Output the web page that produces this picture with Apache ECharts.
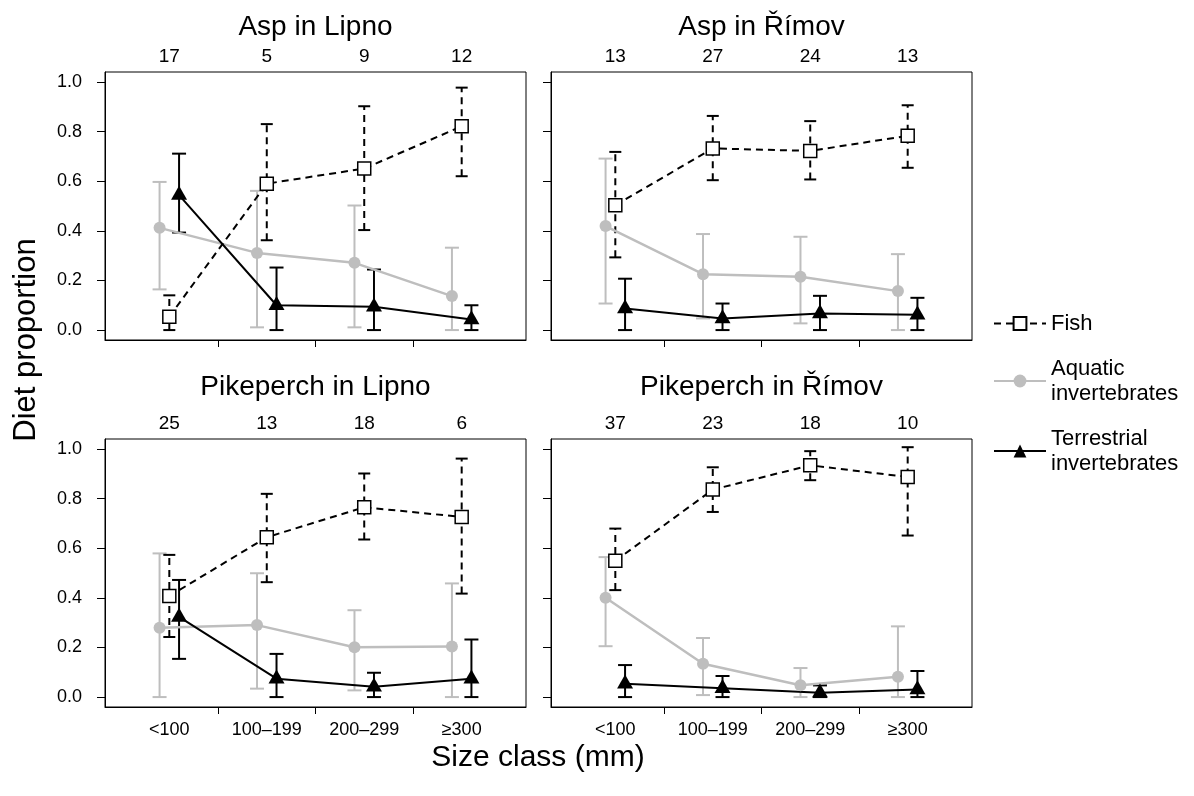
<!DOCTYPE html>
<html>
<head>
<meta charset="utf-8">
<title>Diet proportion by size class</title>
<script src="https://cdn.jsdelivr.net/npm/echarts@6/dist/echarts.min.js"></script>
<style>
  html, body { margin: 0; padding: 0; background: #fff; }
  #chart { width: 1194px; height: 796px; }
</style>
</head>
<body>
<div id="chart"></div>
<script>
// data
const sizeClasses = ['<100', '100–199', '200–299', '≥300']
const panelTitles = ['Asp in Lipno', 'Asp in Římov', 'Pikeperch in Lipno', 'Pikeperch in Římov']
const sampleSizes = [[17, 5, 9, 12], [13, 27, 24, 13], [25, 13, 18, 6], [37, 23, 18, 10]]
const yTicks = [0, 0.2, 0.4, 0.6, 0.8, 1.0]

const fishMean = [[0.054, 0.59, 0.651, 0.821], [0.503, 0.732, 0.722, 0.783], [0.407, 0.644, 0.765, 0.726], [0.549, 0.836, 0.934, 0.887]]
const fishLow = [[0.0, 0.362, 0.403, 0.62], [0.293, 0.604, 0.607, 0.654], [0.242, 0.463, 0.635, 0.417], [0.431, 0.746, 0.874, 0.651]]
const fishHigh = [[0.14, 0.83, 0.902, 0.977], [0.718, 0.863, 0.842, 0.906], [0.573, 0.819, 0.901, 0.961], [0.679, 0.926, 0.991, 1.007]]

const aquaticMean = [[0.412, 0.311, 0.271, 0.137], [0.419, 0.225, 0.215, 0.157], [0.279, 0.29, 0.201, 0.204], [0.4, 0.134, 0.048, 0.082]]
const aquaticLow = [[0.164, 0.011, 0.011, 0.0], [0.107, 0.047, 0.027, 0.0], [0.0, 0.034, 0.027, 0.0], [0.205, 0.008, 0.0, 0.0]]
const aquaticHigh = [[0.597, 0.561, 0.502, 0.332], [0.691, 0.387, 0.376, 0.306], [0.579, 0.499, 0.35, 0.458], [0.564, 0.238, 0.117, 0.285]]

const terrMean = [[0.544, 0.10, 0.094, 0.043], [0.087, 0.047, 0.067, 0.062], [0.323, 0.074, 0.042, 0.074], [0.054, 0.036, 0.017, 0.031]]
const terrLow = [[0.393, 0.0, 0.0, 0.0], [0.0, 0.0, 0.0, 0.0], [0.154, 0.0, 0.0, 0.0], [0.0, 0.0, 0.0, 0.0]]
const terrHigh = [[0.711, 0.252, 0.244, 0.1], [0.207, 0.107, 0.138, 0.13], [0.472, 0.174, 0.098, 0.232], [0.129, 0.085, 0.047, 0.105]]

const FONT = "'Liberation Sans', Arial, sans-serif"
const GREY = '#bebebe'

const panels = [
  { left: 105, top: 72 },
  { left: 551, top: 72 },
  { left: 105, top: 439 },
  { left: 551, top: 439 }
]
const panelW = 421
const panelH = 268

// error bar drawn through the axes: value(0)=x, value(1)=low, value(2)=high
function errorBar(color, dashed, capHalf) {
  return function (params, api) {
    const x = api.value(0)
    const lo = api.coord([x, api.value(1)])
    const hi = api.coord([x, api.value(2)])
    const base = { stroke: color, lineWidth: 2 }
    const stem = dashed ? Object.assign({ lineDash: [7, 5] }, base) : base
    return {
      type: 'group',
      children: [
        { type: 'line', shape: { x1: lo[0], y1: lo[1], x2: hi[0], y2: hi[1] }, style: stem },
        { type: 'line', shape: { x1: lo[0] - capHalf, y1: lo[1], x2: lo[0] + capHalf, y2: lo[1] }, style: base },
        { type: 'line', shape: { x1: hi[0] - capHalf, y1: hi[1], x2: hi[0] + capHalf, y2: hi[1] }, style: base }
      ]
    }
  }
}

const grid = []
const xAxis = []
const yAxis = []
const series = []

panels.forEach((p, i) => {
  const isLeft = i % 2 === 0
  const isBottom = i >= 2
  grid.push({
    left: p.left, top: p.top, width: panelW, height: panelH,
    show: true, borderColor: '#000', borderWidth: 1, backgroundColor: 'transparent'
  })
  // bottom axis: size classes
  xAxis.push({
    type: 'value', gridIndex: i, position: 'bottom', min: 0.34, max: 4.66,
    axisLine: { show: true, onZero: false, lineStyle: { color: '#000', width: 1 } },
    axisTick: { show: true, inside: false, length: 7, lineStyle: { color: '#000' }, customValues: [1.5, 2.5, 3.5] },
    axisLabel: {
      show: isBottom, customValues: [1, 2, 3, 4], margin: 14,
      formatter: v => sizeClasses[Math.round(v) - 1],
      fontSize: 18, color: '#000', fontFamily: FONT
    },
    splitLine: { show: false }
  })
  // top axis: sample sizes
  xAxis.push({
    type: 'value', gridIndex: i, position: 'top', min: 0.34, max: 4.66,
    axisLine: { show: false, onZero: false },
    axisTick: { show: false },
    axisLabel: {
      show: true, customValues: [1, 2, 3, 4], margin: 6,
      formatter: v => String(sampleSizes[i][Math.round(v) - 1]),
      fontSize: 19, color: '#000', fontFamily: FONT
    },
    splitLine: { show: false }
  })
  yAxis.push({
    type: 'value', gridIndex: i, min: -0.04, max: 1.04,
    axisLine: { show: true, onZero: false, lineStyle: { color: '#000', width: 1 } },
    axisTick: { show: true, inside: false, length: 8, lineStyle: { color: '#000' }, customValues: yTicks },
    axisLabel: {
      show: isLeft, customValues: yTicks, margin: 23,
      formatter: v => v.toFixed(1),
      fontSize: 18, color: '#000', fontFamily: FONT
    },
    splitLine: { show: false }
  })

  const xb = i * 2
  const pts = (mean, dx) => mean[i].map((v, k) => [k + 1 + dx, v])
  const bars = (low, high, dx) => low[i].map((v, k) => [k + 1 + dx, v, high[i][k]])

  // aquatic invertebrates (grey, dodged left)
  series.push({
    type: 'custom', name: 'aq-bars-' + i, xAxisIndex: xb, yAxisIndex: i,
    renderItem: errorBar(GREY, false, 7), data: bars(aquaticLow, aquaticHigh, -0.1), silent: true
  })
  series.push({
    type: 'line', name: 'Aquatic\ninvertebrates', xAxisIndex: xb, yAxisIndex: i,
    data: pts(aquaticMean, -0.1), symbol: 'circle', symbolSize: 12,
    lineStyle: { color: GREY, width: 2.5 }, itemStyle: { color: GREY }
  })
  // fish (dashed, open squares)
  series.push({
    type: 'custom', name: 'fish-bars-' + i, xAxisIndex: xb, yAxisIndex: i,
    renderItem: errorBar('#000', true, 6), data: bars(fishLow, fishHigh, 0), silent: true
  })
  series.push({
    type: 'line', name: 'Fish', xAxisIndex: xb, yAxisIndex: i,
    data: pts(fishMean, 0), symbol: 'rect', symbolSize: 13,
    lineStyle: { color: '#000', width: 2, type: [7, 5] },
    itemStyle: { color: '#fff', borderColor: '#000', borderWidth: 1.5 }
  })
  // terrestrial invertebrates (solid black, triangles, dodged right)
  series.push({
    type: 'custom', name: 'terr-bars-' + i, xAxisIndex: xb, yAxisIndex: i,
    renderItem: errorBar('#000', false, 7), data: bars(terrLow, terrHigh, 0.1), silent: true
  })
  series.push({
    type: 'line', name: 'Terrestrial\ninvertebrates', xAxisIndex: xb, yAxisIndex: i,
    data: pts(terrMean, 0.1), symbol: 'triangle', symbolSize: [16, 14], symbolOffset: [0, '-16%'],
    lineStyle: { color: '#000', width: 2 }, itemStyle: { color: '#000' }
  })
})

const graphic = panelTitles.map((t, i) => ({
  type: 'text',
  x: panels[i].left + panelW / 2,
  y: i < 2 ? 27 : 387,
  style: { text: t, fill: '#000', font: '28px ' + FONT, textAlign: 'center', textVerticalAlign: 'middle' }
}))
graphic.push({
  type: 'text', x: 26, y: 340, rotation: Math.PI / 2,
  style: { text: 'Diet proportion', fill: '#000', font: '31px ' + FONT, textAlign: 'center', textVerticalAlign: 'middle' }
})
graphic.push({
  type: 'text', x: 538, y: 758,
  style: { text: 'Size class (mm)', fill: '#000', font: '30px ' + FONT, textAlign: 'center', textVerticalAlign: 'middle' }
})

const chart = echarts.init(document.getElementById('chart'), null, { renderer: 'canvas' })
chart.setOption({
  animation: false,
  backgroundColor: '#fff',
  textStyle: { fontFamily: FONT },
  grid, xAxis, yAxis, series, graphic,
  legend: {
    orient: 'vertical', left: 988, top: 306,
    data: ['Fish', 'Aquatic\ninvertebrates', 'Terrestrial\ninvertebrates'],
    itemWidth: 52, itemHeight: 16, itemGap: 20,
    selectedMode: false,
    textStyle: { fontSize: 22, lineHeight: 25, color: '#000', fontFamily: FONT }
  }
})
</script>
</body>
</html>
